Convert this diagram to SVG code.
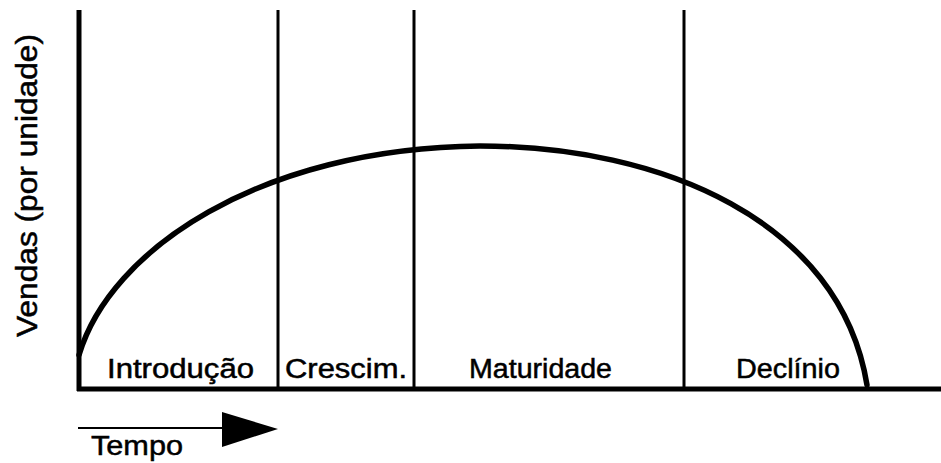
<svg xmlns="http://www.w3.org/2000/svg" width="941" height="463" viewBox="0 0 941 463">
<style>
.lbl{font-family:"Liberation Sans",Arial,sans-serif;font-size:27px;fill:#000;stroke:#000;stroke-width:0.5}
.axis{stroke:#000;stroke-width:5;fill:none}
.div{stroke:#000;stroke-width:3;fill:none}
.curve{stroke:#000;stroke-width:5.5;fill:none;stroke-linecap:round}
</style>
<rect width="941" height="463" fill="#fff"/>
<g id="connectors">
<line class="axis" x1="79" y1="10" x2="79" y2="391"/>
<line class="axis" x1="77" y1="389" x2="941" y2="389"/>
<line class="div" x1="278" y1="10" x2="278" y2="389"/>
<line class="div" x1="414" y1="10" x2="414" y2="389"/>
<line class="div" x1="684" y1="10" x2="684" y2="389"/>
<path class="curve" d="M79,355 C110,250 260,148 480,146 C660,146 840,220 867,385"/>
<line x1="78" y1="428" x2="230" y2="428" stroke="#000" stroke-width="2"/>
<polygon points="222,412 278,429 222,447" fill="#000"/>
</g>
<g id="ylabel"><text class="lbl" style="font-size:30px" transform="translate(37,337) rotate(-90)" textLength="303" lengthAdjust="spacingAndGlyphs">Vendas (por unidade)</text></g>
<g id="introducao"><text class="lbl" x="107" y="378" textLength="147" lengthAdjust="spacingAndGlyphs">Introdução</text></g>
<g id="crescim"><text class="lbl" x="285" y="378" textLength="122" lengthAdjust="spacingAndGlyphs">Crescim.</text></g>
<g id="maturidade"><text class="lbl" x="469" y="378" textLength="143" lengthAdjust="spacingAndGlyphs">Maturidade</text></g>
<g id="declinio"><text class="lbl" x="736" y="378" textLength="104" lengthAdjust="spacingAndGlyphs">Declínio</text></g>
<g id="tempo"><text class="lbl" style="font-size:28px" x="91" y="455" textLength="92" lengthAdjust="spacingAndGlyphs">Tempo</text></g>
</svg>
